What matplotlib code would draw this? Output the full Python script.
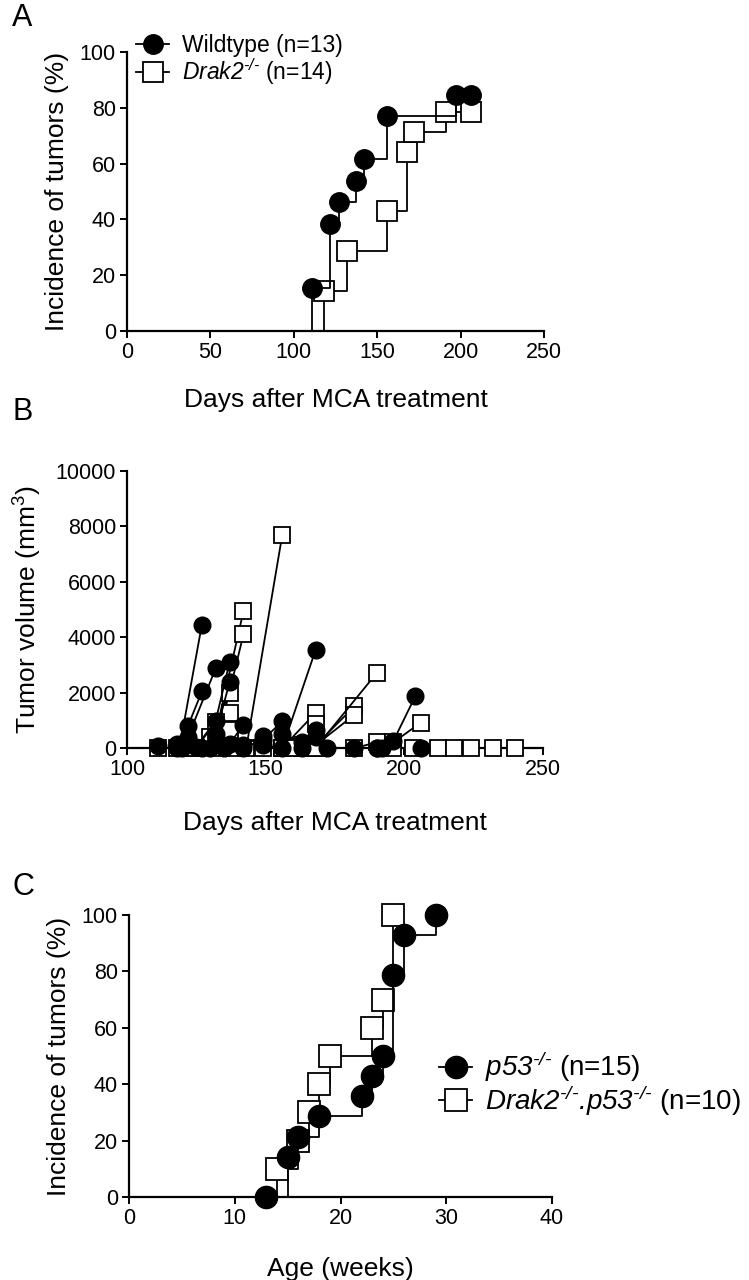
import matplotlib
matplotlib.use("Agg")
import matplotlib.pyplot as plt
from matplotlib.lines import Line2D

plt.rcParams['font.family'] = ['Liberation Sans', 'DejaVu Sans']
plt.rcParams['mathtext.fontset'] = 'custom'
plt.rcParams['mathtext.rm'] = 'Liberation Sans:italic'
plt.rcParams['mathtext.it'] = 'Liberation Sans:italic'
plt.rcParams['mathtext.sf'] = 'Liberation Sans'
plt.rcParams['mathtext.bf'] = 'Liberation Sans:bold'

# ---------------- Panel A data (incidence, %) ----------------
a_wt_days = [0, 111, 122, 127, 137, 142, 156, 197, 206]
a_wt_inc = [0, 15.4, 38.5, 46.2, 53.8, 61.5, 76.9, 84.6, 84.6]
a_ko_days = [0, 118, 132, 156, 168, 172, 191, 206]
a_ko_inc = [0, 14.3, 28.6, 42.9, 64.3, 71.4, 78.6, 78.6]

# ---------------- Panel B data (tumor volume per mouse) ----------------
b_wt_days = [
    [111],
    [118, 119, 127],
    [118, 122, 127],
    [120, 122, 132],
    [125, 132, 137],
    [127, 132, 137],
    [130, 137, 142],
    [135, 142, 149],
    [142, 149, 156],
    [149, 156, 168],
    [156, 163, 168],
    [163, 168, 172],
    [182, 190, 192],
    [190, 196, 204],
    [206],
]
b_wt_vol = [
    [80],
    [0, 60, 4450],
    [150, 800, 2040],
    [0, 400, 2880],
    [50, 990, 3100],
    [0, 500, 2380],
    [0, 150, 840],
    [0, 100, 440],
    [0, 300, 960],
    [100, 0, 3540],
    [500, 200, 660],
    [0, 400, 0],
    [0, 0, 0],
    [0, 240, 1880],
    [0],
]
b_ko_days = [
    [111, 118],
    [120, 131, 142],
    [122, 132, 142],
    [122, 130, 137],
    [125, 132, 137],
    [125, 132, 137],
    [137, 143, 156],
    [149, 156, 168],
    [156, 163, 168],
    [163, 167, 182],
    [163, 168, 182],
    [160, 168, 190],
    [182, 190, 196, 206],
    [196, 203, 212, 218, 224, 232, 240],
]
b_ko_vol = [
    [0, 0],
    [0, 100, 4940],
    [0, 0, 4100],
    [100, 400, 2000],
    [0, 300, 1260],
    [0, 950, 650],
    [0, 0, 7700],
    [0, 0, 1270],
    [0, 100, 850],
    [0, 0, 1500],
    [0, 100, 1200],
    [0, 0, 2700],
    [0, 200, 200, 920],
    [0, 0, 0, 0, 0, 0, 0],
]

# ---------------- Panel C data (incidence, %) ----------------
c_p53_weeks = [0, 13, 15, 16, 18, 22, 23, 24, 25, 26, 29]
c_p53_inc = [0, 0, 14.3, 21.4, 28.6, 35.7, 42.9, 50.0, 78.6, 92.9, 100]
c_dko_weeks = [0, 14, 16, 17, 18, 19, 23, 24, 25]
c_dko_inc = [0, 10, 20, 30, 40, 50, 60, 70, 100]

W, H = 749, 1280
fig = plt.figure(figsize=(W / 100, H / 100), dpi=100)

def axes_px(l, r, t, b):
    return fig.add_axes([l / W, 1 - b / H, (r - l) / W, (b - t) / H])

TICK_FS = 15.5
LAB_FS = 19
LW = 1.3

def style(ax):
    for s in ('top', 'right'):
        ax.spines[s].set_visible(False)
    for s in ('left', 'bottom'):
        ax.spines[s].set_linewidth(1.6)
    ax.tick_params(direction='out', length=5, width=1.4, labelsize=TICK_FS, pad=3)

# ---------------- Panel A ----------------
axA = axes_px(127, 544, 52, 331)
style(axA)
msA = 14
axA.step(a_ko_days, a_ko_inc, where='post', color='black', lw=LW, clip_on=False)
axA.plot(a_ko_days[1:], a_ko_inc[1:], ls='none', marker='s', ms=msA, mfc='white',
         mec='black', mew=1.3, clip_on=False, zorder=3)
axA.step(a_wt_days, a_wt_inc, where='post', color='black', lw=LW, clip_on=False, zorder=4)
axA.plot(a_wt_days[1:], a_wt_inc[1:], ls='none', marker='o', ms=msA, mfc='black',
         mec='black', clip_on=False, zorder=5)
axA.set_xlim(0, 250)
axA.set_ylim(0, 100)
axA.set_xticks([0, 50, 100, 150, 200, 250])
axA.set_yticks([0, 20, 40, 60, 80, 100])
axA.set_xlabel('Days after MCA treatment', fontsize=LAB_FS, labelpad=18)
axA.set_ylabel('Incidence of tumors (%)', fontsize=LAB_FS, labelpad=8)

hA = [Line2D([], [], color='black', lw=LW, marker='o', ms=msA, mfc='black'),
      Line2D([], [], color='black', lw=LW, marker='s', ms=msA, mfc='white', mew=1.3)]
legA = fig.legend(hA, ['Wildtype (n=13)', r'$\text{Drak2}^{\text{-/-}}$ (n=14)'],
                  loc='upper left', bbox_to_anchor=(136 / W, 1 - 34 / H),
                  frameon=False, fontsize=16.5, handlelength=1.45,
                  handletextpad=0.55, labelspacing=-0.04, borderaxespad=0, borderpad=0)

# ---------------- Panel B ----------------
axB = axes_px(127, 543, 471, 748)
style(axB)
msB = 12
for d, v in zip(b_ko_days, b_ko_vol):
    axB.plot(d, v, color='black', lw=LW, marker='s', ms=msB, mfc='white',
             mec='black', mew=1.3, clip_on=False, zorder=3)
for d, v in zip(b_wt_days, b_wt_vol):
    axB.plot(d, v, color='black', lw=LW, marker='o', ms=msB, mfc='black',
             mec='black', clip_on=False, zorder=4)
axB.set_xlim(100, 250)
axB.set_ylim(0, 10000)
axB.set_xticks([100, 150, 200, 250])
axB.set_yticks([0, 2000, 4000, 6000, 8000, 10000])
axB.set_xlabel('Days after MCA treatment', fontsize=LAB_FS, labelpad=22)
axB.set_ylabel(r'Tumor volume (mm$^{\mathsf{3}}$)', fontsize=LAB_FS, labelpad=8)

# ---------------- Panel C ----------------
axC = axes_px(129, 552, 915, 1197)
style(axC)
msC = 16
axC.step(c_dko_weeks, c_dko_inc, where='post', color='black', lw=LW, clip_on=False)
axC.plot(c_dko_weeks[1:], c_dko_inc[1:], ls='none', marker='s', ms=msC, mfc='white',
         mec='black', mew=1.3, clip_on=False, zorder=3)
axC.step(c_p53_weeks, c_p53_inc, where='post', color='black', lw=LW, clip_on=False, zorder=4)
axC.plot(c_p53_weeks[1:], c_p53_inc[1:], ls='none', marker='o', ms=msC, mfc='black',
         mec='black', clip_on=False, zorder=5)
axC.set_xlim(0, 40)
axC.set_ylim(0, 100)
axC.set_xticks([0, 10, 20, 30, 40])
axC.set_yticks([0, 20, 40, 60, 80, 100])
axC.set_xlabel('Age (weeks)', fontsize=LAB_FS, labelpad=20)
axC.set_ylabel('Incidence of tumors (%)', fontsize=LAB_FS, labelpad=8)

hC = [Line2D([], [], color='black', lw=LW, marker='o', ms=msC, mfc='black'),
      Line2D([], [], color='black', lw=LW, marker='s', ms=msC, mfc='white', mew=1.3)]
legC = fig.legend(hC, [r'$\text{p53}^{\text{-/-}}$ (n=15)',
                       r'$\text{Drak2}^{\text{-/-}}\text{.p53}^{\text{-/-}}$ (n=10)'],
                  loc='upper left', bbox_to_anchor=(439 / W, 1 - 1050 / H),
                  frameon=False, fontsize=20, handlelength=1.2,
                  handletextpad=0.45, labelspacing=-0.05, borderaxespad=0, borderpad=0)

# panel letters
for letter, y in (('A', 18), ('B', 412), ('C', 887)):
    fig.text(12 / W, 1 - y / H, letter, fontsize=22, va='center', ha='left')

fig.savefig('out.png', dpi=100)
